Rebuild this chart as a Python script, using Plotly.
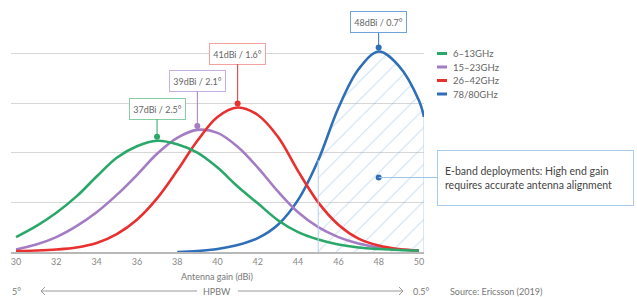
import plotly.graph_objects as go

# ---- data ----
gain = [30, 31, 32, 33, 34, 35, 36, 37, 38, 39, 40, 41, 42, 43, 44, 45, 46, 47, 48, 49, 50]
band_6_13 = [0.3, 0.52, 0.79, 1.12, 1.52, 1.9, 2.13, 2.24, 2.17, 2.0, 1.7, 1.32, 0.98, 0.64, 0.4, 0.25, 0.15, 0.09, 0.06, 0.04, 0.03]
band_15_23 = [0.05, 0.15, 0.3, 0.52, 0.8, 1.15, 1.55, 1.98, 2.3, 2.46, 2.4, 2.12, 1.7, 1.22, 0.8, 0.5, 0.3, 0.17, 0.09, 0.05, 0.03]
band_26_42 = [0.02, 0.03, 0.05, 0.09, 0.18, 0.36, 0.65, 1.08, 1.64, 2.24, 2.72, 2.91, 2.76, 2.32, 1.63, 1.0, 0.55, 0.27, 0.13, 0.06, 0.03]
gain_eband = [38, 39, 40, 41, 42, 43, 44, 45, 46, 47, 48, 49, 50, 50.25]
band_78_80 = [0.0, 0.02, 0.06, 0.14, 0.28, 0.55, 1.05, 1.85, 2.9, 3.68, 4.04, 3.75, 3.05, 2.72]

series_names = ["6–13GHz", "15–23GHz", "26–42GHz", "78/80GHz"]
peak_gain = [37, 39, 41, 48]
peak_labels = ["37dBi / 2.5°", "39dBi / 2.1°", "41dBi / 1.6°", "48dBi / 0.7°"]
xticks = [30, 32, 34, 36, 38, 40, 42, 44, 46, 48, 50]
eband_start = 45
callout_text = "E-band deployments: High end gain<br>requires accurate antenna alignment"
callout_point = (48, 1.5)

# ---- styles ----
colors = ["#2aa869", "#a47cc3", "#e8302f", "#2f6fb7"]
box_colors = ["#86cfa6", "#c8aedb", "#f2a0a0", "#6fa3d8"]
box_ay = [-28, -45, -50, -25]
hatch_col = "rgba(120,170,220,0.75)"
edge_col = "#b5d0ea"
FONT = "Lato"

W, H = 637, 297
L, R, T, B = 11, 213, 44, 45
PW, PH = W - L - R, H - T - B


def px(xp):
    return (xp - L) / PW


def py(yp):
    return (H - B - yp) / PH


xs = [gain, gain, gain, gain_eband]
ys = [band_6_13, band_15_23, band_26_42, band_78_80]

fig = go.Figure()
shapes = []
ann = []

# hatched E-band region under blue curve
hx = [x for x in gain_eband if x >= eband_start]
hy = [y for x, y in zip(gain_eband, band_78_80) if x >= eband_start]
fig.add_trace(go.Scatter(
    x=hx, y=hy, mode="lines", line=dict(width=0, shape="spline"),
    fill="tozeroy", fillcolor="rgba(0,0,0,0)",
    fillpattern=dict(shape="/", fgcolor=hatch_col, bgcolor="rgba(255,255,255,0)",
                     size=13, solidity=0.08),
    hoverinfo="skip", showlegend=False))

# vertical edges of hatched area
shapes.append(dict(type="line", xref="x", yref="y", x0=hx[0], x1=hx[0], y0=0, y1=hy[0],
                   line=dict(color=edge_col, width=1), layer="above"))
shapes.append(dict(type="line", xref="x", yref="y", x0=hx[-1], x1=hx[-1], y0=0, y1=hy[-1],
                   line=dict(color=edge_col, width=1), layer="above"))

order = [3, 1, 2, 0]
for i in order:
    fig.add_trace(go.Scatter(
        x=xs[i], y=ys[i], mode="lines", name=series_names[i],
        line=dict(color=colors[i], width=2.6, shape="spline"),
        showlegend=False))

# peak dots
dot_y = [max(v) + 0.08 for v in ys]
fig.add_trace(go.Scatter(
    x=peak_gain, y=dot_y, mode="markers",
    marker=dict(color=colors, size=6), cliponaxis=False,
    showlegend=False, hoverinfo="skip"))

# callout dot
fig.add_trace(go.Scatter(
    x=[callout_point[0]], y=[callout_point[1]], mode="markers",
    marker=dict(color=colors[3], size=6), cliponaxis=False,
    showlegend=False, hoverinfo="skip"))

for i in range(4):
    ann.append(dict(
        x=peak_gain[i], y=dot_y[i], xref="x", yref="y",
        text=peak_labels[i], showarrow=True, arrowhead=0, arrowwidth=1,
        arrowcolor=colors[i], ax=0, ay=box_ay[i],
        bordercolor=box_colors[i], borderwidth=1, borderpad=3,
        bgcolor="white", width=49, height=14,
        font=dict(family=FONT, size=9, color="#666")))

# callout box
ann.append(dict(
    x=callout_point[0], y=callout_point[1], xref="x", yref="y",
    text=callout_text, showarrow=True, arrowhead=0, arrowwidth=1,
    arrowcolor="#9cc3e6", ax=157, ay=0, align="left",
    bordercolor="#a9cbea", borderwidth=1, borderpad=7, bgcolor="white",
    width=181, height=40,
    font=dict(family=FONT, size=10.5, color="#444")))

# manual legend
for i in range(4):
    yy = 53.5 + 13.5 * i
    shapes.append(dict(type="line", xref="paper", yref="paper",
                       x0=px(437), x1=px(447), y0=py(yy), y1=py(yy),
                       line=dict(color=colors[i], width=3)))
    ann.append(dict(x=px(451), y=py(yy), xref="paper", yref="paper",
                    text=series_names[i], showarrow=False, xanchor="left",
                    yanchor="middle",
                    font=dict(family=FONT, size=9.5, color="#666")))

# axis title
ann.append(dict(x=px(217), y=py(276), xref="paper", yref="paper",
                text="Antenna gain (dBi)", showarrow=False,
                xanchor="center", yanchor="middle",
                font=dict(family=FONT, size=9, color="#777")))

# HPBW row
yb = 291
for txt, xx, anchor in [("5°", 16, "center"), ("HPBW", 217, "center"),
                        ("0.5°", 421, "center"), ("Source: Ericsson (2019)", 448, "left")]:
    ann.append(dict(x=px(xx), y=py(yb), xref="paper", yref="paper", text=txt,
                    showarrow=False, xanchor=anchor, yanchor="middle",
                    font=dict(family=FONT, size=9, color="#777")))

arrow_col = "#999"
shapes.append(dict(type="line", xref="paper", yref="paper",
                   x0=px(41), x1=px(197), y0=py(yb), y1=py(yb),
                   line=dict(color=arrow_col, width=1)))
shapes.append(dict(type="line", xref="paper", yref="paper",
                   x0=px(238), x1=px(403), y0=py(yb), y1=py(yb),
                   line=dict(color=arrow_col, width=1)))
shapes.append(dict(type="path", xref="paper", yref="paper",
                   path=f"M {px(45)},{py(yb-4)} L {px(41)},{py(yb)} L {px(45)},{py(yb+4)}",
                   line=dict(color=arrow_col, width=1)))
shapes.append(dict(type="path", xref="paper", yref="paper",
                   path=f"M {px(399)},{py(yb-4)} L {px(403)},{py(yb)} L {px(399)},{py(yb+4)}",
                   line=dict(color=arrow_col, width=1)))

fig.update_layout(
    width=W, height=H,
    margin=dict(l=L, r=R, t=T, b=B, pad=0),
    paper_bgcolor="white", plot_bgcolor="white",
    font=dict(family=FONT),
    showlegend=False,
    annotations=ann, shapes=shapes,
    xaxis=dict(range=[29.75, 50.25], tickvals=xticks, showgrid=False,
               zeroline=False, showline=True, linecolor="#b8b8b8", linewidth=2,
               ticks="", automargin=False,
               tickfont=dict(family=FONT, size=9, color="#888")),
    yaxis=dict(range=[0, 4.19], tickvals=[1, 2, 3, 4], showticklabels=False,
               showgrid=True, gridcolor="#d6d6d6", gridwidth=1, automargin=False,
               zeroline=False, showline=False, ticks=""),
)

fig.write_html("out.html", config={"displayModeBar": False},
               post_script="document.body.style.margin='0';document.body.style.overflow='hidden';")
